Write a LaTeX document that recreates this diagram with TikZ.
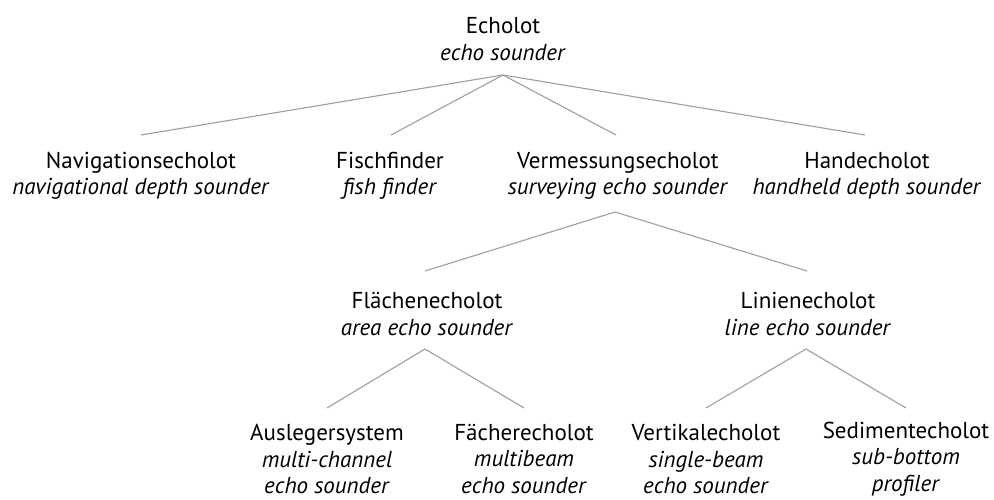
\documentclass[tikz,border=0pt]{standalone}
\usepackage{fontspec}
\setmainfont{PT Sans}
\begin{document}
\begin{tikzpicture}[x=1bp,y=-1bp,
  lbl/.style={align=center,inner sep=0pt,font=\fontsize{23bp}{26.5bp}\selectfont},
  conn/.style={draw=black!38,line width=1.1bp}]
\useasboundingbox (0,0) rectangle (994,500);
% nodes
\node[lbl] (root) at (503,39) {Echolot\\\textit{echo sounder}};
\node[lbl] (nav) at (141,176) {Navigationsecholot\\\textit{navigational depth sounder}};
\node[lbl] (fish) at (390,176) {Fischfinder\\\textit{fish finder}};
\node[lbl] (verm) at (618,176) {Vermessungsecholot\\\textit{surveying echo sounder}};
\node[lbl] (hand) at (867,176) {Handecholot\\\textit{handheld depth sounder}};
\node[lbl] (flae) at (427,314) {Flächenecholot\\\textit{area echo sounder}};
\node[lbl] (lini) at (808,314) {Linienecholot\\\textit{line echo sounder}};
\node[lbl] (ausl) at (327,459) {Auslegersystem\\\textit{multi-channel}\\\textit{echo sounder}};
\node[lbl] (faec) at (524,459) {Fächerecholot\\\textit{multibeam}\\\textit{echo sounder}};
\node[lbl] (vert) at (706,459) {Vertikalecholot\\\textit{single-beam}\\\textit{echo sounder}};
\node[lbl] (sedi) at (906,459) {Sedimentecholot\\\textit{sub-bottom}\\\textit{profiler}};
% connector end points
\coordinate (rootA) at (503,75);
\coordinate (navT) at (141,135);
\coordinate (fishT) at (391,135);
\coordinate (vermT) at (616,135);
\coordinate (handT) at (865,135);
\coordinate (vermA) at (615,212);
\coordinate (flaeT) at (425,271);
\coordinate (liniT) at (807,271);
\coordinate (flaeA) at (425,349);
\coordinate (liniA) at (806,349);
\coordinate (auslT) at (327,408);
\coordinate (faecT) at (524,408);
\coordinate (vertT) at (706,408);
\coordinate (sediT) at (906,408);
% connectors
\draw[conn] (rootA) -- (navT);
\draw[conn] (rootA) -- (fishT);
\draw[conn] (rootA) -- (vermT);
\draw[conn] (rootA) -- (handT);
\draw[conn] (vermA) -- (flaeT);
\draw[conn] (vermA) -- (liniT);
\draw[conn] (flaeA) -- (auslT);
\draw[conn] (flaeA) -- (faecT);
\draw[conn] (liniA) -- (vertT);
\draw[conn] (liniA) -- (sediT);
\end{tikzpicture}
\end{document}
